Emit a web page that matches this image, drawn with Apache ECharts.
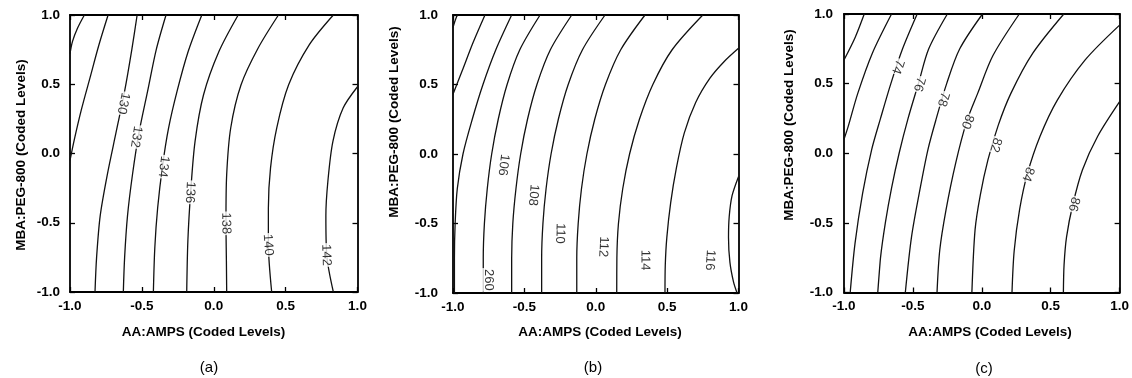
<!DOCTYPE html>
<html><head><meta charset="utf-8">
<script src="https://cdn.jsdelivr.net/npm/echarts@6/dist/echarts.min.js"></script>
<style>html,body{margin:0;padding:0;background:#fff}#c{width:1132px;height:378px}</style>
</head><body><div id="c"></div>
<script>
// ---------- data (coded levels) ----------
const tickValues = [-1.0, -0.5, 0.0, 0.5, 1.0];
const xAxisTitle = 'AA:AMPS (Coded Levels)';
const yAxisTitle = 'MBA:PEG-800 (Coded Levels)';
const panelCaptions = ['(a)', '(b)', '(c)'];

// Panel (a) contour lines, each a list of [AA:AMPS, MBA:PEG-800] points
const aLevels = [126, 128, 130, 132, 134, 136, 138, 140, 142];
const aLines = [
  [[-0.90,1],[-0.948,0.904],[-0.983,0.808],[-1,0.72]],
  [[-0.735,1],[-0.80,0.78],[-0.86,0.55],[-0.92,0.32],[-0.97,0.10],[-1,-0.05]],
  [[-0.533,1],[-0.57,0.75],[-0.62,0.45],[-0.68,0.15],[-0.74,-0.15],[-0.79,-0.45],[-0.815,-0.75],[-0.826,-1]],
  [[-0.332,1],[-0.40,0.75],[-0.46,0.45],[-0.52,0.15],[-0.565,-0.15],[-0.60,-0.45],[-0.62,-0.75],[-0.629,-1]],
  [[-0.083,1],[-0.178,0.736],[-0.255,0.45],[-0.315,0.18],[-0.355,-0.08],[-0.39,-0.39],[-0.41,-0.68],[-0.42,-1]],
  [[0.17,1],[0.036,0.736],[-0.071,0.424],[-0.13,0.088],[-0.16,-0.27],[-0.18,-0.63],[-0.188,-1]],
  [[0.45,1],[0.308,0.76],[0.19,0.496],[0.118,0.184],[0.09,-0.152],[0.085,-0.49],[0.088,-0.78],[0.09,-1]],
  [[0.832,1],[0.664,0.784],[0.521,0.496],[0.438,0.184],[0.395,-0.104],[0.38,-0.393],[0.38,-0.65],[0.403,-1]],
  [[1,0.482],[0.90,0.328],[0.829,0.088],[0.794,-0.2],[0.78,-0.45],[0.786,-0.733],[0.832,-1]]
];
const aLabelText = ['130', '132', '134', '136', '138', '140', '142'];
const aLabelPos = [[-0.629,0.362],[-0.54,0.121],[-0.35,-0.095],[-0.165,-0.28],[0.085,-0.504],[0.378,-0.66],[0.782,-0.733]];
const aLabelLine = [2, 3, 4, 5, 6, 7, 8];

// Panel (b)
const bLevels = [100, 102, 104, 106, 108, 110, 112, 114, 116, 118];
const bLines = [
  [[-0.97,1],[-0.985,0.96],[-1,0.91]],
  [[-0.776,1],[-0.86,0.8],[-0.935,0.6],[-1,0.43]],
  [[-0.589,1],[-0.70,0.75],[-0.79,0.5],[-0.865,0.25],[-0.93,0],[-0.97,-0.25],[-0.985,-0.5],[-0.99,-0.75],[-0.99,-1]],
  [[-0.39,1],[-0.532,0.75],[-0.621,0.5],[-0.683,0.25],[-0.729,0],[-0.76,-0.25],[-0.78,-0.5],[-0.788,-0.75],[-0.788,-1]],
  [[-0.168,1],[-0.318,0.75],[-0.412,0.5],[-0.478,0.25],[-0.526,0],[-0.559,-0.25],[-0.581,-0.5],[-0.589,-0.75],[-0.589,-1]],
  [[0.065,1],[-0.093,0.75],[-0.193,0.5],[-0.262,0.25],[-0.313,0],[-0.348,-0.25],[-0.37,-0.5],[-0.379,-0.75],[-0.379,-1]],
  [[0.345,1],[0.175,0.75],[0.068,0.5],[-0.007,0.25],[-0.062,0],[-0.10,-0.25],[-0.123,-0.5],[-0.133,-0.75],[-0.133,-1]],
  [[0.75,1],[0.535,0.75],[0.40,0.5],[0.306,0.25],[0.237,0],[0.189,-0.25],[0.159,-0.5],[0.148,-0.75],[0.147,-1]],
  [[1,0.76],[0.9,0.665],[0.8,0.545],[0.7,0.37],[0.62,0.15],[0.565,-0.1],[0.525,-0.35],[0.498,-0.6],[0.487,-0.8],[0.485,-1]],
  [[1,-0.163],[0.955,-0.3],[0.935,-0.45],[0.93,-0.6],[0.94,-0.78],[0.965,-0.92],[0.99,-1]]
];
const bLabelText = ['106', '108', '110', '112', '114', '116', '260'];
const bLabelPos = [[-0.647,-0.079],[-0.437,-0.295],[-0.25,-0.571],[0.053,-0.667],[0.345,-0.763],[0.80,-0.763],[-0.753,-0.906]];
const bLabelLine = [3, 4, 5, 6, 7, 8, 3];

// Panel (c)
const cLevels = [70, 72, 74, 76, 78, 80, 82, 84, 86];
const cLines = [
  [[-0.853,1],[-0.92,0.83],[-1,0.67]],
  [[-0.655,1],[-0.795,0.717],[-0.90,0.43],[-0.97,0.191],[-1,0.10]],
  [[-0.469,1],[-0.575,0.75],[-0.66,0.5],[-0.735,0.25],[-0.80,0.023],[-0.865,-0.288],[-0.92,-0.647],[-0.955,-1]],
  [[-0.25,1],[-0.385,0.75],[-0.46,0.5],[-0.535,0.25],[-0.60,0],[-0.655,-0.25],[-0.70,-0.5],[-0.735,-0.75],[-0.755,-1]],
  [[0.005,1],[-0.16,0.75],[-0.255,0.5],[-0.33,0.25],[-0.39,0.03],[-0.445,-0.24],[-0.51,-0.6],[-0.555,-1]],
  [[0.272,1],[0.08,0.7],[-0.03,0.43],[-0.11,0.227],[-0.19,-0.072],[-0.26,-0.408],[-0.305,-0.695],[-0.325,-1]],
  [[0.595,1],[0.369,0.717],[0.211,0.43],[0.119,0.2],[0.044,-0.05],[-0.011,-0.3],[-0.049,-0.55],[-0.072,-1]],
  [[1,0.92],[0.75,0.67],[0.547,0.38],[0.422,0.12],[0.33,-0.15],[0.275,-0.4],[0.235,-0.7],[0.219,-1]],
  [[1,0.37],[0.84,0.12],[0.73,-0.12],[0.66,-0.37],[0.615,-0.6],[0.597,-0.8],[0.592,-1]]
];
const cLabelText = ['74', '76', '78', '80', '82', '84', '86'];
const cLabelPos = [[-0.61,0.622],[-0.455,0.495],[-0.28,0.388],[-0.105,0.227],[0.1,0.06],[0.335,-0.15],[0.668,-0.366]];
const cLabelLine = [2, 3, 4, 5, 6, 7, 8];

// ---------- chart ----------
const FONT = '"Liberation Sans", Arial, sans-serif';
const panels = [
  {lines: aLines, labelText: aLabelText, labelPos: aLabelPos, labelLine: aLabelLine, levels: aLevels},
  {lines: bLines, labelText: bLabelText, labelPos: bLabelPos, labelLine: bLabelLine, levels: bLevels},
  {lines: cLines, labelText: cLabelText, labelPos: cLabelPos, labelLine: cLabelLine, levels: cLevels}
];
const grids = [
  {left: 70, top: 15, width: 287.5, height: 277},
  {left: 453, top: 15, width: 285.5, height: 278},
  {left: 844, top: 14, width: 286, height: 278.5}
];
const yLabelMargin = [10, 15, 11];
const xTitlePos = [[203.5, 332.5], [600, 332.5], [990, 332.5]];
const yTitlePos = [[21, 155], [394, 122], [789, 125]];
const captionPos = [[209, 368], [593, 368], [984, 369]];

const fmt = v => Number(v).toFixed(1);
const lineCol = '#111';
const xAxes = [], yAxes = [], series = [], graphics = [];
grids.forEach((g, i) => {
  const base = {
    gridIndex: i, type: 'value', min: tickValues[0], max: tickValues[tickValues.length - 1], interval: 0.5,
    splitLine: {show: false},
    axisLine: {show: true, onZero: false, lineStyle: {color: '#000', width: 1.8}},
    axisTick: {show: true, inside: true, length: 5, lineStyle: {color: '#000', width: 1.3}}
  };
  const lab = {show: true, formatter: fmt, color: '#000', fontSize: 13.5, fontWeight: 'bold', fontFamily: FONT, showMinLabel: true, showMaxLabel: true};
  xAxes.push(Object.assign({}, base, {position: 'bottom', axisLabel: Object.assign({margin: 7}, lab)}));
  xAxes.push(Object.assign({}, base, {position: 'top', axisLabel: {show: false}}));
  yAxes.push(Object.assign({}, base, {position: 'left', axisLabel: Object.assign({margin: yLabelMargin[i]}, lab)}));
  yAxes.push(Object.assign({}, base, {position: 'right', axisLabel: {show: false}}));

  panels[i].lines.forEach((pts, k) => {
    series.push({
      name: 'p' + i + '_' + panels[i].levels[k], type: 'line', xAxisIndex: 2 * i, yAxisIndex: 2 * i,
      data: pts, showSymbol: false, symbol: 'none', smooth: 0.3, clip: true, silent: true,
      lineStyle: {color: lineCol, width: 1.3}, z: 2
    });
  });

  graphics.push({type: 'text', x: xTitlePos[i][0], y: xTitlePos[i][1],
    style: {text: xAxisTitle, fill: '#000', font: 'bold 13.5px ' + FONT, align: 'center', verticalAlign: 'middle'}});
  graphics.push({type: 'text', x: yTitlePos[i][0], y: yTitlePos[i][1], rotation: Math.PI / 2,
    style: {text: yAxisTitle, fill: '#000', font: 'bold 13.5px ' + FONT, align: 'center', verticalAlign: 'middle'}});
  graphics.push({type: 'text', x: captionPos[i][0], y: captionPos[i][1],
    style: {text: panelCaptions[i], fill: '#000', font: '15px ' + FONT, align: 'center', verticalAlign: 'middle'}});
});

const chart = echarts.init(document.getElementById('c'), null, {renderer: 'canvas'});
chart.setOption({
  animation: false,
  backgroundColor: '#fff',
  grid: grids.map(g => Object.assign({containLabel: false}, g)),
  xAxis: xAxes, yAxis: yAxes, series: series, graphic: graphics
});

// contour labels, rotated along their line
function labelAngle(gi, line, pos) {
  let seg = null;
  for (let k = 0; k < line.length - 1; k++) {
    const a = line[k], b = line[k + 1];
    if (pos[1] >= Math.min(a[1], b[1]) && pos[1] <= Math.max(a[1], b[1])) { seg = [a, b]; break; }
  }
  if (!seg) seg = [line[0], line[1]];
  const pa = chart.convertToPixel({gridIndex: gi}, seg[0]);
  const pb = chart.convertToPixel({gridIndex: gi}, seg[1]);
  let dx = pb[0] - pa[0], dy = pb[1] - pa[1];
  if (dy < 0) { dx = -dx; dy = -dy; }
  return -Math.atan2(dy, dx) * 180 / Math.PI;
}
panels.forEach((p, i) => {
  const data = p.labelPos.map((pos, k) => ({
    value: pos, name: p.labelText[k],
    label: {rotate: labelAngle(i, p.lines[p.labelLine[k]], pos)}
  }));
  series.push({
    type: 'scatter', xAxisIndex: 2 * i, yAxisIndex: 2 * i, data: data, symbolSize: 1, silent: true, z: 5,
    itemStyle: {color: 'rgba(0,0,0,0)'},
    label: {show: true, position: 'inside', formatter: '{b}', color: '#000', fontSize: 13, fontFamily: FONT,
      backgroundColor: '#fff', padding: [0, 1]}
  });
});
chart.setOption({series: series});
</script></body></html>
